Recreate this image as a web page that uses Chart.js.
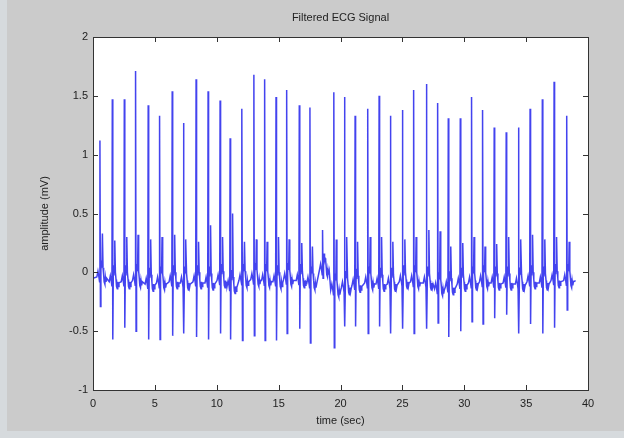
<!DOCTYPE html>
<html>
<head>
<meta charset="utf-8">
<script src="https://cdn.jsdelivr.net/npm/chart.js@4.4.1/dist/chart.umd.min.js"></script>
<style>
  html, body { margin: 0; padding: 0; background: #d6dadd; }
  #frame { position: absolute; left: 7px; top: 0; width: 617px; height: 431px; background: #cbcbcb; }
  #ecg-chart { display: block; }
</style>
</head>
<body>
<div id="frame"><canvas id="ecg-chart" width="617" height="431"></canvas></div>
<script>
// R-peak times (sec) and the amplitudes read at each beat (mV)
const rTimes = [0.56, 1.56, 2.53, 3.44, 4.46, 5.38, 6.40, 7.31, 8.33, 9.30, 10.27, 11.08, 12.04, 13.00, 13.87,
  14.79, 15.65, 16.67, 17.53, 18.55, 19.46, 20.32, 21.18, 22.20, 23.12, 24.03, 25.00, 25.91, 26.94,
  27.85, 28.71, 29.68, 30.59, 31.48, 32.42, 33.39, 34.38, 35.32, 36.31, 37.26, 38.28];
const rPeaks = [1.12, 1.47, 1.47, 1.71, 1.42, 1.33, 1.54, 1.27, 1.64, 1.54, 1.46, 1.14, 1.39, 1.68, 1.64,
  1.49, 1.55, 1.42, 1.40, 0.36, 1.53, 1.49, 1.33, 1.39, 1.50, 1.33, 1.38, 1.55, 1.60,
  1.44, 1.31, 1.31, 1.49, 1.38, 1.23, 1.19, 1.23, 1.39, 1.47, 1.62, 1.33];
const sTroughs = [-0.29, -0.57, -0.47, -0.50, -0.57, -0.57, -0.54, -0.52, -0.55, -0.57, -0.52, -0.57, -0.58, -0.54, -0.58,
  -0.58, -0.52, -0.48, -0.60, -0.05, -0.64, -0.46, -0.46, -0.52, -0.46, -0.52, -0.48, -0.52, -0.48,
  -0.43, -0.55, -0.50, -0.42, -0.44, -0.39, -0.36, -0.52, -0.44, -0.52, -0.47, -0.32];
const tPeaks = [0.33, 0.27, 0.30, 0.32, 0.28, 0.30, 0.32, 0.28, 0.26, 0.40, 0.30, 0.50, 0.26, 0.28, 0.26,
  0.30, 0.28, 0.25, 0.22, 0.12, 0.28, 0.30, 0.26, 0.30, 0.30, 0.26, 0.28, 0.30, 0.36,
  0.35, 0.22, 0.25, 0.30, 0.22, 0.24, 0.30, 0.28, 0.32, 0.28, 0.30, 0.26];
const baselines = [-0.04, -0.08, -0.08, -0.07, -0.10, -0.09, -0.08, -0.09, -0.08, -0.09, -0.07, -0.12, -0.07, -0.06, -0.07,
  -0.08, -0.06, -0.07, -0.09, 0.02, -0.15, -0.13, -0.11, -0.09, -0.10, -0.10, -0.08, -0.08, -0.09,
  -0.14, -0.13, -0.10, -0.09, -0.08, -0.09, -0.09, -0.10, -0.08, -0.09, -0.07, -0.07];
const signalStart = { x: 0, y: -0.05 };
const signalEnd = { x: 39.0, y: -0.07 };

const xTicks = [0, 5, 10, 15, 20, 25, 30, 35, 40];
const yTicks = [-1, -0.5, 0, 0.5, 1, 1.5, 2];

// one beat: baseline, small P, R up, S down, T bump, back to baseline
function beatPoints(i) {
  const t = rTimes[i];
  const b = baselines[i];
  return [
    { x: t - 0.25, y: b },
    { x: t - 0.16, y: b + 0.05 },
    { x: t - 0.08, y: b },
    { x: t - 0.03, y: b - 0.04 },
    { x: t, y: rPeaks[i] },
    { x: t + 0.04, y: sTroughs[i] },
    { x: t + 0.08, y: b + 0.06 },
    { x: t + 0.13, y: b + 0.14 },
    { x: t + 0.16, y: b + 0.08 },
    { x: t + 0.20, y: tPeaks[i] },
    { x: t + 0.25, y: b + 0.08 },
    { x: t + 0.30, y: b + 0.02 },
    { x: t + 0.34, y: b - 0.04 },
    { x: t + 0.40, y: b - 0.06 },
    { x: t + 0.44, y: b },
    { x: t + 0.49, y: b - 0.04 },
    { x: t + 0.54, y: b - 0.01 }
  ];
}

let ecgData = [signalStart];
rTimes.forEach((t, i) => { ecgData = ecgData.concat(beatPoints(i)); });
ecgData.push(signalEnd);

// MATLAB style box with inward tick marks on all four sides
const boxTicks = {
  id: 'boxTicks',
  beforeDraw(chart) {
    const ctx = chart.ctx;
    const a = chart.chartArea;
    ctx.save();
    ctx.fillStyle = '#ffffff';
    ctx.fillRect(a.left, a.top, a.right - a.left, a.bottom - a.top);
    ctx.restore();
  },
  afterDraw(chart) {
    const ctx = chart.ctx;
    const a = chart.chartArea;
    const xs = chart.scales.x;
    const ys = chart.scales.y;
    const len = 5;
    ctx.save();
    ctx.strokeStyle = '#333';
    ctx.lineWidth = 1;
    ctx.beginPath();
    xTicks.forEach(v => {
      const px = Math.round(xs.getPixelForValue(v)) + 0.5;
      ctx.moveTo(px, a.bottom); ctx.lineTo(px, a.bottom - len);
      ctx.moveTo(px, a.top); ctx.lineTo(px, a.top + len);
    });
    yTicks.forEach(v => {
      const py = Math.round(ys.getPixelForValue(v)) + 0.5;
      ctx.moveTo(a.left, py); ctx.lineTo(a.left + len, py);
      ctx.moveTo(a.right, py); ctx.lineTo(a.right - len, py);
    });
    ctx.stroke();
    ctx.strokeRect(Math.round(a.left) + 0.5, Math.round(a.top) + 0.5,
      Math.round(a.right - a.left), Math.round(a.bottom - a.top));
    ctx.restore();
  }
};

const labelFont = { family: 'Liberation Sans, Arial, sans-serif', size: 11 };

const ctx = document.getElementById('ecg-chart').getContext('2d');
window.myChart = new Chart(ctx, {
  type: 'line',
  data: {
    datasets: [{
      label: 'Filtered ECG',
      data: ecgData,
      borderColor: 'rgba(20, 20, 235, 0.8)',
      borderWidth: 1.5,
      pointRadius: 0,
      tension: 0,
      fill: false
    }]
  },
  options: {
    responsive: false,
    animation: false,
    layout: { padding: { left: 0, right: 36, top: 0, bottom: 0 } },
    scales: {
      x: {
        type: 'linear',
        min: 0,
        max: 40,
        afterFit: s => { s.height = 41; },
        afterBuildTicks: s => { s.ticks = xTicks.map(v => ({ value: v })); },
        grid: { display: false, drawTicks: false },
        border: { display: false },
        ticks: { color: '#222', font: labelFont, padding: 7, maxRotation: 0, callback: v => String(v) },
        title: { display: true, text: 'time (sec)', color: '#222', font: labelFont, padding: { top: 0, bottom: 3 } }
      },
      y: {
        type: 'linear',
        min: -1,
        max: 2,
        afterFit: s => { s.width = 86; },
        afterBuildTicks: s => { s.ticks = yTicks.map(v => ({ value: v })); },
        grid: { display: false, drawTicks: false },
        border: { display: false },
        ticks: { color: '#222', font: labelFont, padding: 5, callback: v => String(v) },
        title: { display: true, text: 'amplitude (mV)', color: '#222', font: labelFont, padding: { top: 31, bottom: 0 } }
      }
    },
    plugins: {
      legend: { display: false },
      tooltip: { enabled: false },
      title: {
        display: true,
        text: 'Filtered ECG Signal',
        fullSize: false,
        color: '#222',
        font: { family: 'Liberation Sans, Arial, sans-serif', size: 11, weight: 'normal' },
        padding: { top: 11, bottom: 12.8 }
      }
    }
  },
  plugins: [boxTicks]
});
</script>
</body>
</html>
